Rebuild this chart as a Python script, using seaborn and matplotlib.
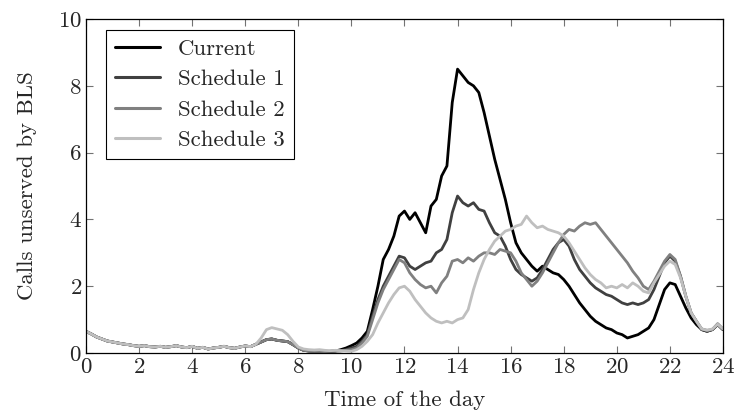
import numpy as np
import pandas as pd
import matplotlib
matplotlib.use("Agg")
import matplotlib.pyplot as plt
import seaborn as sns

# Hour of day, sampled every 12 minutes
hours = np.round(np.arange(0, 24.01, 0.2), 1)

current = [
    0.65, 0.57, 0.48, 0.42, 0.36, 0.33, 0.30, 0.27, 0.25, 0.22,
    0.20, 0.22, 0.19, 0.18, 0.20, 0.17, 0.19, 0.22, 0.18, 0.16,
    0.20, 0.14, 0.17, 0.12, 0.15, 0.17, 0.20, 0.16, 0.14, 0.18,
    0.21, 0.19, 0.26, 0.33, 0.40, 0.42, 0.38, 0.36, 0.34, 0.25,
    0.15, 0.08, 0.06, 0.05, 0.05, 0.04, 0.05, 0.06, 0.10, 0.15,
    0.22, 0.30, 0.45, 0.65, 1.30, 2.00, 2.80, 3.10, 3.50, 4.10,
    4.25, 4.00, 4.20, 3.90, 3.60, 4.40, 4.60, 5.30, 5.60, 7.50,
    8.50, 8.30, 8.10, 8.00, 7.80, 7.20, 6.50, 5.80, 5.20, 4.60,
    3.90, 3.30, 3.00, 2.80, 2.60, 2.45, 2.60, 2.50, 2.40, 2.35,
    2.20, 2.00, 1.75, 1.50, 1.30, 1.10, 0.95, 0.85, 0.75, 0.70,
    0.60, 0.55, 0.45, 0.50, 0.55, 0.65, 0.75, 1.00, 1.45, 1.90,
    2.10, 2.05, 1.70, 1.35, 1.05, 0.85, 0.70, 0.65, 0.70, 0.85,
    0.70,
]

schedule_1 = [
    0.65, 0.57, 0.48, 0.42, 0.36, 0.33, 0.30, 0.27, 0.25, 0.22,
    0.20, 0.22, 0.19, 0.18, 0.20, 0.17, 0.19, 0.22, 0.18, 0.16,
    0.20, 0.14, 0.17, 0.12, 0.15, 0.17, 0.20, 0.16, 0.14, 0.18,
    0.21, 0.19, 0.26, 0.33, 0.40, 0.42, 0.38, 0.36, 0.34, 0.25,
    0.15, 0.08, 0.06, 0.05, 0.05, 0.04, 0.05, 0.06, 0.07, 0.10,
    0.15, 0.20, 0.35, 0.55, 1.10, 1.60, 2.00, 2.30, 2.60, 2.90,
    2.85, 2.60, 2.50, 2.60, 2.70, 2.75, 3.00, 3.10, 3.40, 4.20,
    4.70, 4.50, 4.40, 4.50, 4.30, 4.25, 3.90, 3.60, 3.50, 3.20,
    2.80, 2.50, 2.35, 2.25, 2.15, 2.25, 2.50, 2.80, 3.10, 3.30,
    3.40, 3.20, 2.80, 2.50, 2.30, 2.10, 1.95, 1.85, 1.75, 1.70,
    1.60, 1.50, 1.45, 1.50, 1.45, 1.50, 1.60, 1.90, 2.30, 2.70,
    2.90, 2.75, 2.30, 1.70, 1.20, 0.95, 0.70, 0.65, 0.70, 0.85,
    0.70,
]

schedule_2 = [
    0.65, 0.57, 0.48, 0.42, 0.36, 0.33, 0.30, 0.27, 0.25, 0.22,
    0.20, 0.22, 0.19, 0.18, 0.20, 0.17, 0.19, 0.22, 0.18, 0.16,
    0.20, 0.14, 0.17, 0.12, 0.15, 0.17, 0.20, 0.16, 0.14, 0.18,
    0.21, 0.19, 0.26, 0.33, 0.40, 0.42, 0.38, 0.36, 0.34, 0.25,
    0.15, 0.08, 0.06, 0.05, 0.05, 0.04, 0.05, 0.06, 0.06, 0.08,
    0.10, 0.15, 0.30, 0.50, 1.00, 1.50, 1.90, 2.20, 2.50, 2.80,
    2.70, 2.40, 2.20, 2.05, 1.95, 2.00, 1.80, 2.10, 2.30, 2.75,
    2.80, 2.70, 2.85, 2.75, 2.90, 3.00, 3.00, 2.95, 3.10, 3.05,
    3.00, 2.75, 2.40, 2.20, 2.00, 2.15, 2.40, 2.70, 3.00, 3.30,
    3.55, 3.70, 3.65, 3.80, 3.90, 3.85, 3.90, 3.70, 3.50, 3.30,
    3.10, 2.90, 2.70, 2.45, 2.25, 2.00, 1.90, 2.15, 2.45, 2.75,
    2.95, 2.80, 2.30, 1.70, 1.20, 0.95, 0.72, 0.68, 0.70, 0.88,
    0.72,
]

schedule_3 = [
    0.65, 0.57, 0.48, 0.42, 0.36, 0.33, 0.30, 0.27, 0.25, 0.22,
    0.20, 0.22, 0.19, 0.18, 0.20, 0.17, 0.19, 0.22, 0.18, 0.16,
    0.20, 0.14, 0.17, 0.12, 0.15, 0.17, 0.20, 0.16, 0.14, 0.18,
    0.21, 0.19, 0.26, 0.45, 0.70, 0.76, 0.72, 0.68, 0.55, 0.35,
    0.18, 0.12, 0.10, 0.09, 0.10, 0.08, 0.07, 0.08, 0.07, 0.06,
    0.05, 0.10, 0.20, 0.35, 0.55, 0.90, 1.20, 1.50, 1.75, 1.95,
    2.00, 1.85, 1.60, 1.40, 1.20, 1.05, 0.95, 0.90, 0.95, 0.90,
    1.00, 1.05, 1.30, 1.90, 2.40, 2.80, 3.10, 3.35, 3.50, 3.65,
    3.70, 3.80, 3.85, 4.10, 3.90, 3.75, 3.80, 3.70, 3.65, 3.60,
    3.50, 3.30, 3.05, 2.80, 2.55, 2.35, 2.20, 2.10, 1.95, 2.00,
    1.95, 2.05, 1.95, 2.10, 2.00, 1.85, 1.80, 2.10, 2.35, 2.60,
    2.75, 2.65, 2.25, 1.70, 1.20, 0.95, 0.72, 0.68, 0.72, 0.86,
    0.72,
]

series_names = ["Current", "Schedule 1", "Schedule 2", "Schedule 3"]
series_colors = ["#000000", "#404040", "#808080", "#bfbfbf"]
x_ticks = list(range(0, 25, 2))
y_ticks = list(range(0, 11, 2))

frames = []
for name, vals in zip(series_names, [current, schedule_1, schedule_2, schedule_3]):
    frames.append(pd.DataFrame({"hour": hours, "calls": vals, "series": name}))
df = pd.concat(frames, ignore_index=True)

sns.set_style("ticks")
plt.rcParams["font.family"] = "serif"
plt.rcParams["font.serif"] = ["cmr10", "DejaVu Serif"]
plt.rcParams["axes.formatter.use_mathtext"] = True
plt.rcParams["mathtext.fontset"] = "cm"

FS = 16.5

fig = plt.figure(figsize=(7.36, 4.18), dpi=100)
ax = fig.add_axes([0.1168, 0.1555, 0.8655, 0.799])

sns.lineplot(
    data=df, x="hour", y="calls", hue="series",
    hue_order=series_names, palette=dict(zip(series_names, series_colors)),
    linewidth=2.0, ax=ax, legend=False,
)

ax.set_xlim(0, 24)
ax.set_ylim(0, 10)
ax.set_xticks(x_ticks)
ax.set_yticks(y_ticks)
ax.tick_params(direction="in", length=5, width=0.8, color="0.45",
               top=True, right=True, labelsize=FS, pad=3)
for sp in ax.spines.values():
    sp.set_visible(True)
    sp.set_linewidth(0.9)
    sp.set_color("black")

ax.set_xlabel("Time of the day", fontsize=FS, labelpad=10)
ax.set_ylabel("Calls unserved by BLS", fontsize=FS, labelpad=15)

handles = [plt.Line2D([], [], color=c, lw=2.2) for c in series_colors]
leg = ax.legend(handles, series_names, loc="upper left",
                bbox_to_anchor=(0.031, 0.968), borderaxespad=0.0,
                fontsize=FS, frameon=True, fancybox=False, edgecolor="black",
                handlelength=1.95, handletextpad=0.8, labelspacing=0.45,
                borderpad=0.4)
leg.get_frame().set_linewidth(0.8)
leg.get_frame().set_alpha(1)

fig.savefig("out.png", dpi=100)
